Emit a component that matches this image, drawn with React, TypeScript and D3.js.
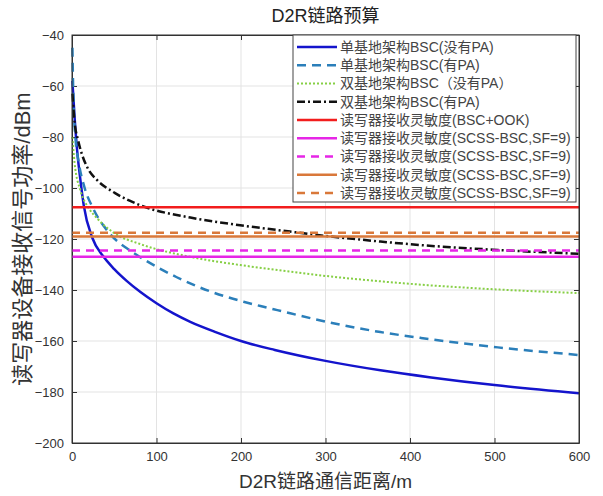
import React, { useRef, useEffect } from 'react';
import * as d3 from 'd3';

// distance (m) / received power (dBm)
const monoNoPaD = [0.5, 1, 3, 6, 10, 14, 24, 37, 50, 65, 81, 100, 120, 140, 170, 200, 240, 300, 365, 425, 500, 600];
const monoNoPaV = [-58, -61, -72, -85, -97, -107, -119.5, -126.8, -131.8, -136.5, -140.8, -145.2, -149.2, -152.5, -156.5, -160, -163.5, -167.8, -171.5, -174.3, -177.3, -180.5];

const monoPaD = [0.5, 1, 2, 4, 8, 15, 25, 45, 70, 89, 104, 124, 144, 164, 184, 203, 223, 243, 306, 365, 413, 504, 600];
const monoPaV = [-45, -55, -68, -80, -90, -100, -108, -118, -124.8, -128.8, -131.6, -135, -138, -140.6, -142.8, -144.6, -146.3, -147.9, -152.8, -156.5, -158.8, -162.5, -165.5];

const biNoPaD = [0.5, 3, 10, 20, 30, 49, 81, 140, 199, 258, 306, 365, 425, 504, 600];
const biNoPaV = [-80, -90, -101, -108, -112, -117.5, -122, -127, -130.2, -132.8, -134.7, -136.6, -138.2, -139.8, -141.2];

const biPaD = [0.5, 3, 7, 12, 19, 30, 51, 81, 140, 199, 258, 306, 365, 413, 504, 600];
const biPaV = [-63, -74, -81, -87, -92.5, -97, -102, -106.8, -111.6, -114.6, -117.1, -119, -121, -122.4, -124.3, -125.8];

// reader sensitivity levels (dBm)
const sensOok = -107.5;
const sensMagentaSolid = -127;
const sensMagentaDash = -124.5;
const sensOrangeSolid = -119;
const sensOrangeDash = -117.5;

const xTicks = [0, 100, 200, 300, 400, 500, 600];
const yTicks = [-40, -60, -80, -100, -120, -140, -160, -180, -200];

const legendLabels = [
  '单基地架构BSC(没有PA)',
  '单基地架构BSC(有PA)',
  '双基地架构BSC（没有PA）',
  '双基地架构BSC(有PA)',
  '读写器接收灵敏度(BSC+OOK)',
  '读写器接收灵敏度(SCSS-BSC,SF=9)',
  '读写器接收灵敏度(SCSS-BSC,SF=9)',
  '读写器接收灵敏度(SCSS-BSC,SF=9)',
  '读写器接收灵敏度(SCSS-BSC,SF=9)',
];

const FONT = "'Liberation Sans', 'Noto Sans CJK SC', sans-serif";

const App = () => {
  const svgRef = useRef<SVGSVGElement | null>(null);

  useEffect(() => {
    const width = 603;
    const height = 496;
    const margin = { top: 35, right: 24, bottom: 53, left: 72 };
    const innerWidth = width - margin.left - margin.right;
    const innerHeight = height - margin.top - margin.bottom;

    const svg = d3.select(svgRef.current);
    svg.selectAll('*').remove();

    const x = d3.scaleLinear().domain([0, 600]).range([0, innerWidth]);
    const y = d3.scaleLinear().domain([-200, -40]).range([innerHeight, 0]);

    const g = svg.append('g').attr('transform', `translate(${margin.left},${margin.top})`);

    // grid
    g.selectAll('.gx').data(xTicks.slice(1, -1)).enter().append('line')
      .attr('x1', d => x(d)).attr('x2', d => x(d))
      .attr('y1', 0).attr('y2', innerHeight)
      .attr('stroke', '#e3e3e3').attr('stroke-width', 1);
    g.selectAll('.gy').data(yTicks.slice(1, -1)).enter().append('line')
      .attr('x1', 0).attr('x2', innerWidth)
      .attr('y1', d => y(d)).attr('y2', d => y(d))
      .attr('stroke', '#e3e3e3').attr('stroke-width', 1);

    // axes (MATLAB style, inward ticks)
    const xAxis = g.append('g').attr('transform', `translate(0,${innerHeight})`)
      .call(d3.axisBottom(x).tickValues(xTicks).tickSizeInner(-5).tickSizeOuter(0).tickPadding(9));
    const yAxis = g.append('g')
      .call(d3.axisLeft(y).tickValues(yTicks).tickSizeInner(-5).tickSizeOuter(0).tickPadding(8));
    g.append('g').call(d3.axisTop(x).tickValues(xTicks).tickSizeInner(-5).tickSizeOuter(0).tickFormat(() => ''));
    g.append('g').attr('transform', `translate(${innerWidth},0)`)
      .call(d3.axisRight(y).tickValues(yTicks).tickSizeInner(-5).tickSizeOuter(0).tickFormat(() => ''));
    [xAxis, yAxis].forEach(a => a.selectAll('text')
      .attr('font-family', FONT).attr('font-size', 13).attr('fill', '#333'));
    g.selectAll('.domain').attr('stroke', '#333');
    g.selectAll('.tick line').attr('stroke', '#333');

    const line = d3.line<[number, number]>()
      .x(d => x(d[0])).y(d => y(d[1]))
      .curve(d3.curveMonotoneX);

    const series = [
      { d: monoNoPaD, v: monoNoPaV, color: '#1414cc', dash: null, w: 2.5 },
      { d: monoPaD, v: monoPaV, color: '#2b7fba', dash: '9,6', w: 2.5 },
      { d: biNoPaD, v: biNoPaV, color: '#86cf45', dash: '2,2', w: 2 },
      { d: biPaD, v: biPaV, color: '#111', dash: '8,3,2,3', w: 2.5 },
    ];

    const hlines = [
      { v: sensOok, color: '#f21d1d', dash: null },
      { v: sensMagentaSolid, color: '#e626e6', dash: null },
      { v: sensMagentaDash, color: '#e626e6', dash: '8,6' },
      { v: sensOrangeSolid, color: '#d9783a', dash: null },
      { v: sensOrangeDash, color: '#d9783a', dash: '8,6' },
    ];

    const plot = g.append('g');
    series.forEach(s => {
      plot.append('path')
        .datum(s.d.map((d, i) => [d, s.v[i]] as [number, number]))
        .attr('d', line)
        .attr('fill', 'none')
        .attr('stroke', s.color)
        .attr('stroke-width', s.w)
        .attr('stroke-dasharray', s.dash);
    });
    hlines.forEach(h => {
      plot.append('line')
        .attr('x1', x(0)).attr('x2', x(600))
        .attr('y1', y(h.v)).attr('y2', y(h.v))
        .attr('stroke', h.color).attr('stroke-width', 2.5)
        .attr('stroke-dasharray', h.dash);
    });

    // legend
    const legendStyles = [...series, ...hlines.map(h => ({ ...h, w: 2.5 }))];
    const lg = svg.append('g').attr('transform', 'translate(293,35)');
    lg.append('rect').attr('width', 283).attr('height', 167)
      .attr('fill', '#fff').attr('stroke', '#444').attr('stroke-width', 1);
    legendLabels.forEach((label, i) => {
      const row = lg.append('g').attr('transform', `translate(0,${12 + i * 18.25})`);
      row.append('line').attr('x1', 4).attr('x2', 44)
        .attr('stroke', legendStyles[i].color)
        .attr('stroke-width', legendStyles[i].w)
        .attr('stroke-dasharray', legendStyles[i].dash);
      row.append('text').attr('x', 47).attr('dy', '0.35em')
        .attr('font-family', FONT).attr('font-size', 14).attr('fill', '#444')
        .text(label);
    });

    // frame on top
    g.append('rect').attr('width', innerWidth).attr('height', innerHeight)
      .attr('fill', 'none').attr('stroke', '#333').attr('stroke-width', 1);

    // titles
    svg.append('text').attr('x', margin.left + innerWidth / 2).attr('y', 22)
      .attr('text-anchor', 'middle').attr('font-family', FONT).attr('font-size', 18)
      .attr('fill', '#222').text('D2R链路预算');
    svg.append('text').attr('x', margin.left + innerWidth / 2).attr('y', 488)
      .attr('text-anchor', 'middle').attr('font-family', FONT).attr('font-size', 19)
      .attr('fill', '#333').text('D2R链路通信距离/m');
    svg.append('text')
      .attr('transform', `translate(30,${margin.top + innerHeight / 2}) rotate(-90)`)
      .attr('text-anchor', 'middle').attr('font-family', FONT).attr('font-size', 22)
      .attr('fill', '#333').text('读写器设备接收信号功率/dBm');
  }, []);

  return (
    <svg ref={svgRef} width={603} height={496}
      style={{ position: 'absolute', left: 0, top: 0, background: '#fff' }} />
  );
};

export default App;
